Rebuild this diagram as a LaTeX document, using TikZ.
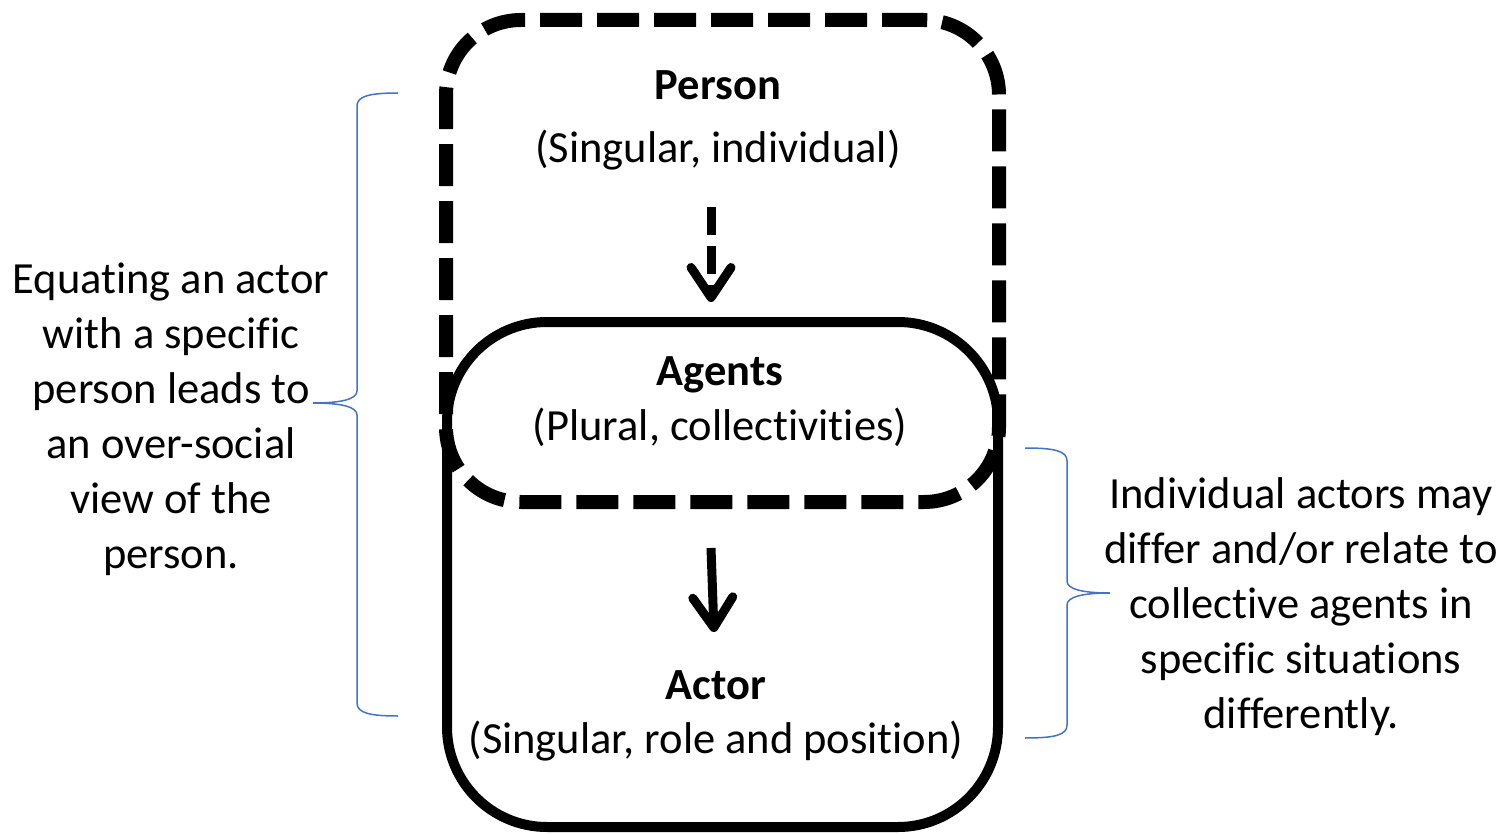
\documentclass[tikz,border=0pt]{standalone}
\usepackage{fontspec}
\setmainfont{Carlito}[Ligatures={NoCommon,NoContextual}]
\usetikzlibrary{arrows.meta}
\definecolor{braceblue}{RGB}{68,114,196}
\tikzset{
  dashbox/.style={draw=black, line width=14pt, dash pattern=on 42pt off 15pt, rounded corners=75pt},
  solidbox/.style={draw=black, line width=10pt, rounded corners=100pt},
  txt/.style={font=\fontsize{44.5}{55}\selectfont, text=black, inner sep=0pt, align=center, anchor=base},
  bold/.style={txt, font=\fontsize{44.5}{55}\selectfont\bfseries},
  flowarrow/.style={line width=9pt, -{Straight Barb[length=30pt,width=40pt,line cap=round,round]}},
  dasharrow/.style={flowarrow, dash pattern=on 28pt off 11pt},
  bracepath/.style={draw=braceblue, line width=1.5pt}
}
\begin{document}
\begin{tikzpicture}[x=1pt,y=1pt]
\useasboundingbox (0,0) rectangle (1504,-834);
% boxes
\node[solidbox, minimum width=551pt, minimum height=505pt] (actorbox) at (722.5,-574.5) {};
\node[dashbox, minimum width=553pt, minimum height=482pt] (personbox) at (722.5,-261) {};
% texts
\node[bold] (person) at (718,-100) {Person};
\node[txt] (personsub) at (718,-163) {(Singular, individual)};
\node[bold] (agents) at (720,-385) {Agents};
\node[txt] (agentssub) at (720,-440) {(Plural, collectivities)};
\node[bold] (actor) at (716,-699) {Actor};
\node[txt] (actorsub) at (716,-753) {(Singular, role and position)};
% arrows
\coordinate (a1s) at (711,-207);
\coordinate (a1e) at (711,-302);
\coordinate (a2s) at (711,-548);
\coordinate (a2e) at (714,-632);
\draw[dasharrow] (a1s) -- (a1e);
\draw[flowarrow] (a2s) -- (a2e);
% side texts (anchor = baseline of last line)
\node[txt] (lefttext) at (171,-568) {Equating an actor\\with a specific\\person leads to\\an over-social\\view of the\\person.};
\node[txt] (righttext) at (1301,-728) {Individual actors may\\differ and/or relate to\\collective agents in\\specific situations\\differently.};
% braces
\coordinate (lbtop) at (398,-93);
\coordinate (lbtip) at (313,-403);
\coordinate (lbbot) at (398,-716);
\draw[bracepath] (lbtop) .. controls (370,-93) and (357,-96) .. (357,-106) -- (357,-391)
  .. controls (357,-399) and (342,-403) .. (lbtip)
  .. controls (342,-403) and (357,-407) .. (357,-415) -- (357,-703)
  .. controls (357,-713) and (370,-716) .. (lbbot);
\coordinate (rbtop) at (1025,-448);
\coordinate (rbtip) at (1110,-593);
\coordinate (rbbot) at (1025,-738);
\draw[bracepath] (rbtop) .. controls (1055,-448) and (1067,-451) .. (1067,-461) -- (1067,-581)
  .. controls (1067,-589) and (1082,-593) .. (rbtip)
  .. controls (1082,-593) and (1067,-597) .. (1067,-605) -- (1067,-725)
  .. controls (1067,-735) and (1055,-738) .. (rbbot);
\end{tikzpicture}
\end{document}
